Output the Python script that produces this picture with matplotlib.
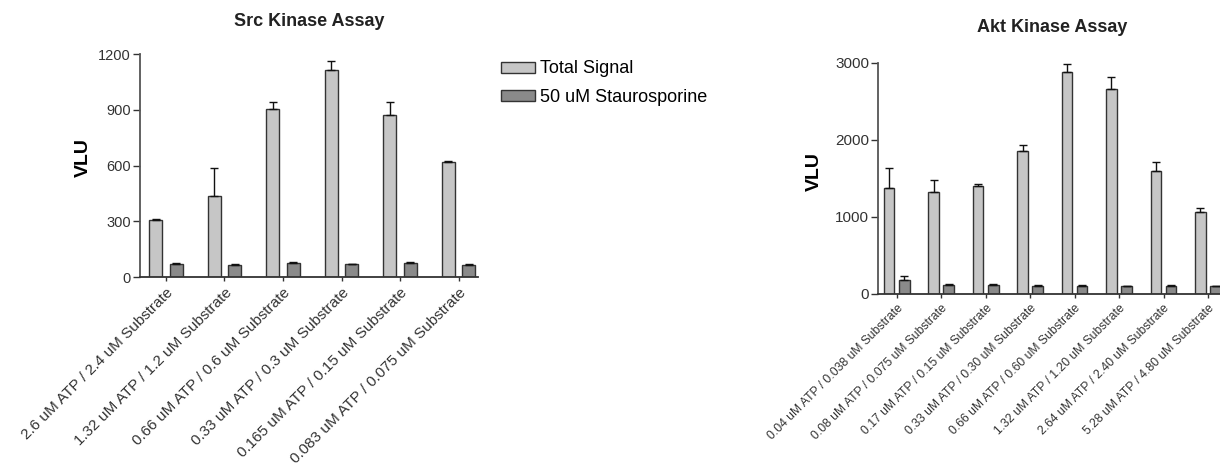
import numpy as np
import matplotlib
matplotlib.use("Agg")
from matplotlib import pyplot as plt
from matplotlib.patches import Patch

plt.rcParams['font.family'] = ['Liberation Sans', 'DejaVu Sans']

# Src kinase assay
src_labels = ['2.6 uM ATP / 2.4 uM Substrate', '1.32 uM ATP / 1.2 uM Substrate',
              '0.66 uM ATP / 0.6 uM Substrate', '0.33 uM ATP / 0.3 uM Substrate',
              '0.165 uM ATP / 0.15 uM Substrate', '0.083 uM ATP / 0.075 uM Substrate']
src_total = [305, 434, 906, 1114, 874, 619]
src_total_err = [7, 153, 34, 50, 66, 3]
src_stauro = [70, 66, 75, 72, 75, 66]
src_stauro_err = [5, 2, 6, 0, 5, 2]

# Akt kinase assay
akt_labels = ['0.04 uM ATP / 0.038 uM Substrate', '0.08 uM ATP / 0.075 uM Substrate',
              '0.17 uM ATP / 0.15 uM Substrate', '0.33 uM ATP / 0.30 uM Substrate',
              '0.66 uM ATP / 0.60 uM Substrate', '1.32 uM ATP / 1.20 uM Substrate',
              '2.64 uM ATP / 2.40 uM Substrate', '5.28 uM ATP / 4.80 uM Substrate']
akt_total = [1377, 1320, 1398, 1861, 2879, 2658, 1602, 1061]
akt_total_err = [259, 156, 35, 74, 104, 160, 117, 56]
akt_stauro = [177, 121, 121, 100, 100, 100, 108, 100]
akt_stauro_err = [61, 13, 13, 17, 17, 0, 13, 0]

light = '#c6c6c6'
dark = '#8a8a8a'
edge = '#333333'

fig = plt.figure(figsize=(12.2, 4.7), dpi=100)


def draw(ax, labels, total, total_err, stauro, stauro_err, width, off, xlim, ticks, ylim,
         lblsize, ticksize, ylab_x, ylab_y):
    x = np.arange(len(labels))
    ax.bar(x - off, total, width, color=light, edgecolor=edge, linewidth=1.0,
           yerr=[np.zeros(len(total)), total_err], error_kw=dict(ecolor='#111111', elinewidth=1.0, capsize=3, capthick=1.0))
    ax.bar(x + off, stauro, width, color=dark, edgecolor=edge, linewidth=1.0,
           yerr=[np.zeros(len(stauro)), stauro_err], error_kw=dict(ecolor='#111111', elinewidth=1.0, capsize=3, capthick=1.0))
    ax.set_xlim(*xlim)
    ax.set_ylim(*ylim)
    ax.set_yticks(ticks)
    ax.set_xticks(x)
    ax.set_xticklabels(labels, rotation=45, ha='right', va='top', rotation_mode='anchor',
                       fontsize=lblsize, color='#222222')
    ax.tick_params(axis='y', labelsize=ticksize, colors='#333333', length=5, width=1, pad=1.5)
    ax.tick_params(axis='x', length=3, width=1, colors='#333333', pad=3)
    for s in ['top', 'right']:
        ax.spines[s].set_visible(False)
    ax.spines['left'].set_color('#555555')
    ax.spines['bottom'].set_color('#333333')
    ax.spines['left'].set_linewidth(1.3)
    ax.spines['bottom'].set_linewidth(1.3)
    ax.set_ylabel('VLU', fontsize=14, fontweight='bold')
    ax.yaxis.set_label_coords(ylab_x, ylab_y)


ax1 = fig.add_axes([0.1148, 0.4106, 0.277, 0.4745])
draw(ax1, src_labels, src_total, src_total_err, src_stauro, src_stauro_err,
     0.22, 0.175, (-0.44, 5.33), [0, 300, 600, 900, 1200], (0, 1200),
     11, 10.5, -0.142, 0.538)

ax2 = fig.add_axes([0.7197, 0.3745, 0.2803, 0.4915])
draw(ax2, akt_labels, akt_total, akt_total_err, akt_stauro, akt_stauro_err,
     0.24, 0.17, (-0.42, 7.27), [0, 1000, 2000, 3000], (0, 3000),
     8.7, 11, -0.161, 0.532)

fig.text(309 / 1220, 1 - 21 / 470, 'Src Kinase Assay', ha='center', va='center',
         fontsize=13, fontweight='bold', color='#222222')
fig.text(1052 / 1220, 1 - 28 / 470, 'Akt Kinase Assay', ha='center', va='center',
         fontsize=13, fontweight='bold', color='#222222')

handles = [Patch(facecolor=light, edgecolor=edge, label='Total Signal'),
           Patch(facecolor=dark, edgecolor=edge, label='50 uM Staurosporine')]
fig.legend(handles=handles, loc='upper left', bbox_to_anchor=(0.408, 0.879), frameon=False,
           fontsize=13, handlelength=1.85, handleheight=0.55, handletextpad=0.3,
           labelspacing=0.62, borderpad=0.2, borderaxespad=0)

fig.savefig('out.png', dpi=100)
